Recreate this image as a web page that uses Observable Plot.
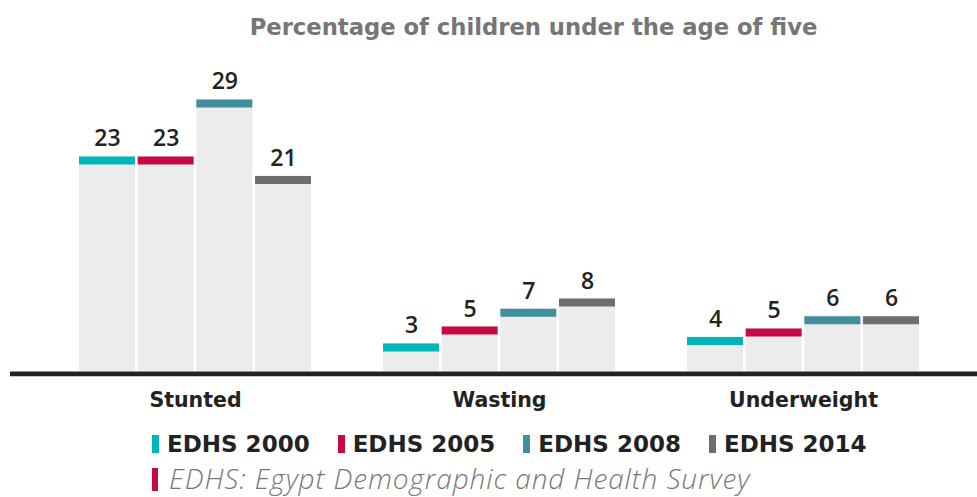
<!DOCTYPE html>
<html>
<head>
<meta charset="utf-8">
<script src="https://cdn.jsdelivr.net/npm/d3@7"></script>
<script src="https://cdn.jsdelivr.net/npm/@observablehq/plot@0.6"></script>
<style>
  html, body { margin: 0; padding: 0; background: #fff; }
  body { width: 977px; height: 497px; overflow: hidden; position: relative; }
  #title { position: absolute; left: 90px; right: 0; top: 0; height: 50px; line-height: 55px; text-align: center;
    font-family: "DejaVu Sans", sans-serif; font-weight: bold; font-size: 22.7px; color: #767676; }
  #chart { position: absolute; left: 0; top: 50px; }
  #legend { position: absolute; left: 152px; top: 430px; font-family: "DejaVu Sans", sans-serif; font-weight: bold;
    font-size: 23px; line-height: 28px; color: #222; white-space: nowrap; }
  .item { display: inline-block; margin-right: 28px; }
  .sw { display: inline-block; width: 7px; height: 18px; margin-right: 8px; vertical-align: -1px; }
  #caption { position: absolute; left: 152px; top: 462px; font-family: "Open Sans", sans-serif; font-style: italic; font-weight: 300;
    font-size: 28px; letter-spacing: 0.9px; line-height: 32px; color: #777779; white-space: nowrap; }
  #caption .sw { width: 6px; height: 23px; margin-right: 11px; vertical-align: -2px; }
</style>
</head>
<body>
<div id="title"></div>
<div id="chart"></div>
<div id="legend"></div>
<div id="caption"></div>
<script>
const titleText = "Percentage of children under the age of five";
const captionText = "EDHS: Egypt Demographic and Health Survey";
const categories = ["Stunted", "Wasting", "Underweight"];
const series = ["EDHS 2000", "EDHS 2005", "EDHS 2008", "EDHS 2014"];
const colors = ["#00b5b8", "#c80a44", "#428f9c", "#6d6e72"];
const stunted = [23.0, 23.0, 29.1, 20.9];
const wasting = [3.0, 4.8, 6.7, 7.8];
const underweight = [3.7, 4.6, 5.9, 5.9];
const valuesByCategory = [stunted, wasting, underweight];

const data = categories.flatMap((c, ci) =>
  series.map((s, si) => ({category: c, series: s, si, value: valuesByCategory[ci][si]})));

const W = 977, H = 371, mL = 10, mR = 0, mT = 40.5, mB = 50;
const xOpts = {type: "band", domain: categories, range: [mL, W - mR], paddingInner: 0.238, paddingOuter: 0.207, align: 0.54};
const bw = Plot.scale({x: xOpts}).bandwidth;
const gap = 2.7;
const barW = (bw - 3 * gap) / 4;
const slot = barW + gap;

const marks = [];
series.forEach((s, i) => {
  const sub = data.filter(d => d.si === i);
  const insetLeft = i * slot, insetRight = bw - i * slot - barW;
  marks.push(Plot.barY(sub, {x: "category", y: "value", fill: "#ececec", insetLeft, insetRight}));
  marks.push(Plot.tickY(sub, {x: "category", y: "value", stroke: "series", strokeWidth: 8, dy: 4, insetLeft, insetRight}));
  marks.push(Plot.text(sub, {x: "category", y: "value", text: d => d3.format(".0f")(d.value),
    dx: i * slot + barW / 2 - bw / 2, dy: -10, lineAnchor: "bottom",
    fontSize: 23, fontWeight: 600, fontFamily: "Open Sans", fill: "#222"}));
});
marks.push(Plot.ruleY([0], {stroke: "#222", strokeWidth: 4.7, dy: 2.35}));
marks.push(Plot.axisX({tickSize: 0, tickPadding: 21, fontSize: 20.5, fontWeight: "bold", fontFamily: "DejaVu Sans", fill: "#222", label: null}));

const plot = Plot.plot({
  width: W, height: H,
  marginLeft: mL, marginRight: mR, marginTop: mT, marginBottom: mB,
  style: {background: "transparent", overflow: "visible"},
  x: {...xOpts, range: undefined, axis: null},
  y: {domain: [0, 30], axis: null},
  color: {domain: series, range: colors},
  marks
});
document.getElementById("chart").appendChild(plot);

document.getElementById("title").textContent = titleText;
const legend = d3.select("#legend");
series.forEach((s, i) => {
  const it = legend.append("span").attr("class", "item");
  it.append("span").attr("class", "sw").style("background", colors[i]);
  it.append("span").text(s);
});
const cap = d3.select("#caption");
cap.append("span").attr("class", "sw").style("background", colors[1]);
cap.append("span").text(captionText);
</script>
</body>
</html>
